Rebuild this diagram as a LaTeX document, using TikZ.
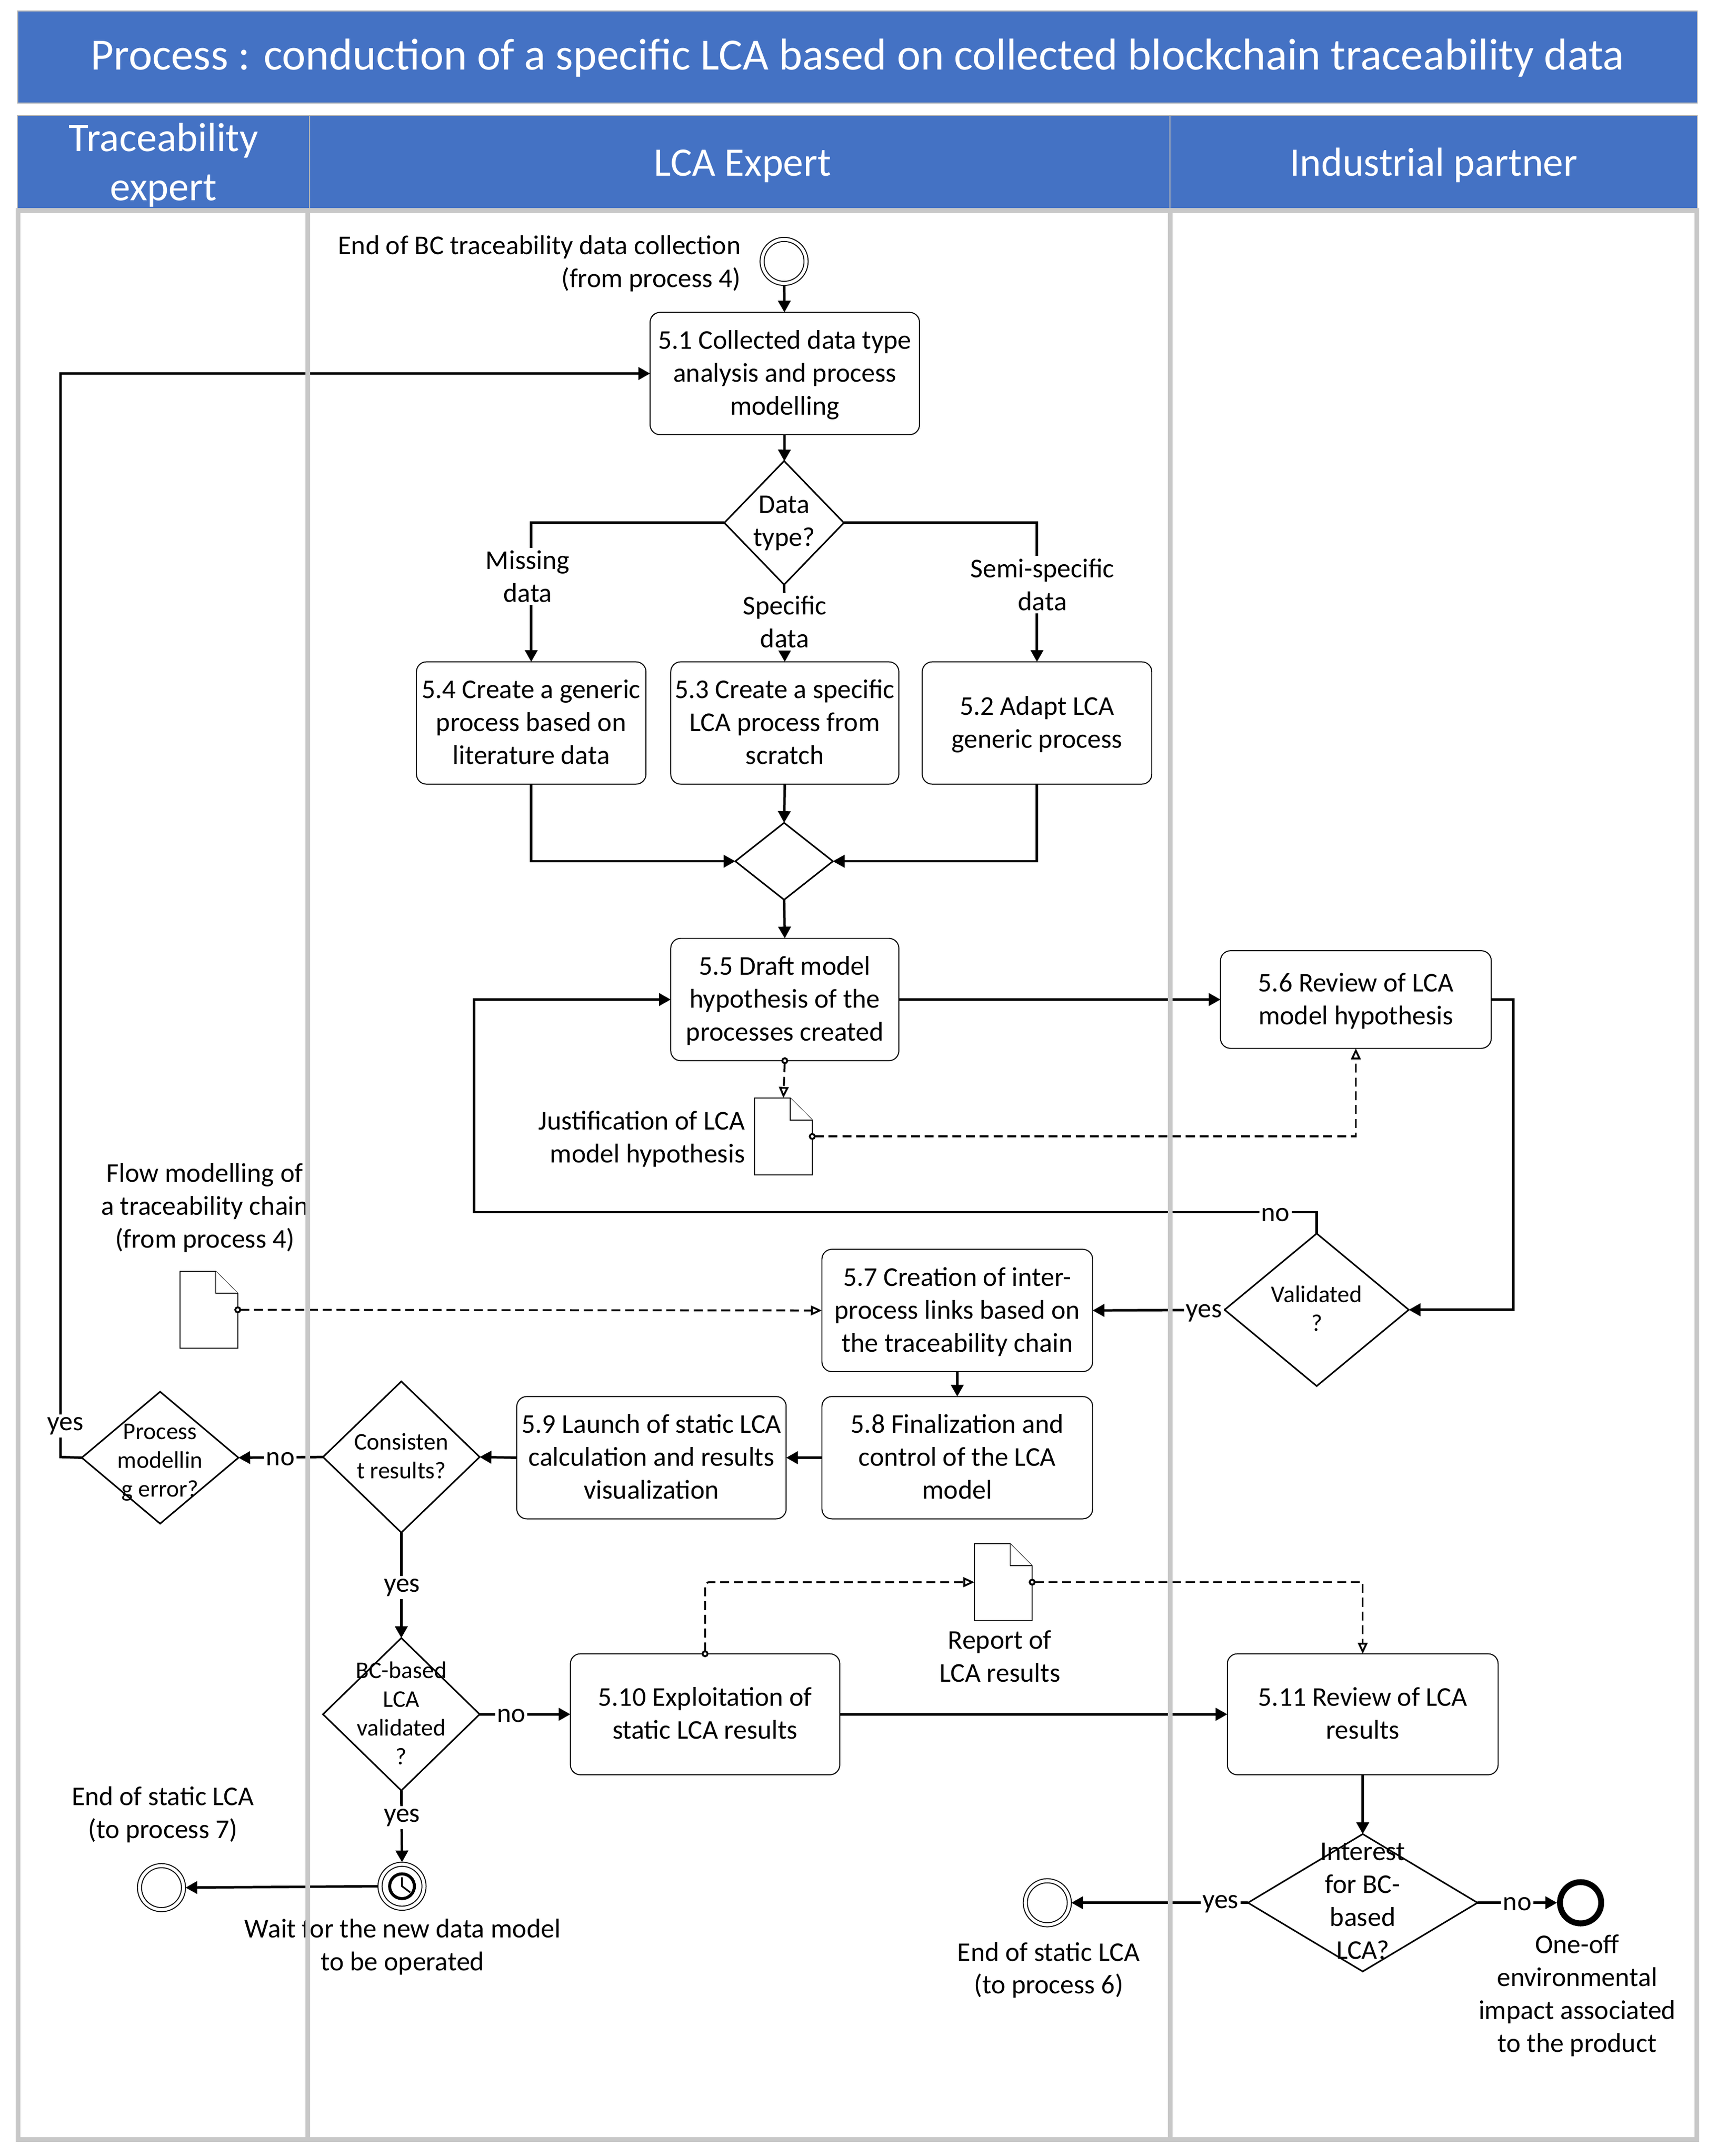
\documentclass[tikz,border=0pt]{standalone}
\usepackage{fontspec}
\setmainfont{Carlito}
\usetikzlibrary{shapes.geometric,arrows.meta,calc}
\def\U{0.026277cm}
\definecolor{barblue}{HTML}{4472C4}
\definecolor{lanegray}{HTML}{C8C8C8}
\definecolor{barline}{HTML}{B4B4B4}
\newcommand\docshape[1]{%
  \draw[docline] (#1.north west) -- ([xshift=-16*\U]#1.north east) -- ([yshift=-16*\U]#1.north east) -- (#1.south east) -- (#1.south west) -- cycle;
  \draw[docline] ([xshift=-16*\U]#1.north east) -- ([xshift=-16*\U,yshift=-16*\U]#1.north east) -- ([yshift=-16*\U]#1.north east);}
\newcommand\dtxt[1]{\smash{\makebox[0pt]{\begin{tabular}{@{}c@{}}#1\end{tabular}}}}
\newcommand\tk[2][1pt]{\raisebox{-#1}[\height][\depth]{\begin{tabular}{@{}c@{}}#2\end{tabular}}}
\tikzset{
  body/.style={font=\fontsize{14.75}{17.9}\selectfont},
  small/.style={font=\fontsize{13}{15.7}\selectfont},
  bar/.style={fill=barblue,draw=barline,line width=0.5pt,text=white,align=center,inner sep=0pt,outer sep=0pt,anchor=center},
  task/.style={draw=black,fill=white,rounded corners=0.19cm,line width=0.55pt,align=center,inner sep=0pt,outer sep=0pt,body},
  gate/.style={diamond,draw=black,fill=white,line width=0.85pt,inner sep=0pt,outer sep=0pt},
  txt/.style={align=center,inner sep=0pt,outer sep=0pt,body},
  gtxt/.style={txt,yshift=-5*\U},
  lab/.style={align=center,inner xsep=1pt,inner ysep=1.5pt,outer sep=0pt,fill=white,body},
  evt/.style={circle,draw=black,fill=white,line width=0.5pt,minimum size=35*\U,inner sep=0pt,outer sep=0pt},
  docnode/.style={rectangle,minimum width=42*\U,minimum height=56*\U,inner sep=0pt,outer sep=0pt},
  docline/.style={draw=black,fill=white,line width=0.5pt},
  flow/.style={draw=black,line width=1.35pt,-{Triangle[length=8.5*\U,width=9*\U]}},
  msg/.style={draw=black,line width=1pt,dash pattern=on 6.5*\U off 3.5*\U,
     {Circle[open,fill=white,length=5*\U,width=5*\U]}-{Triangle[open,fill=white,length=8*\U,width=7*\U]},shorten <=-2.5*\U},
  lane/.style={draw=lanegray,line width=3.5*\U},
}
\begin{document}
\begin{tikzpicture}[x=0.026277cm,y=-0.02631cm]
\useasboundingbox (0,0) rectangle (1249,1567.08);
% bars
\node[bar,minimum width=1222*\U,minimum height=67*\U,font=\fontsize{24.3}{29}\selectfont] (title) at (624,41.5) {\tk[1pt]{Process : conduction of a specific LCA based on collected blockchain traceability data}};
\node[bar,minimum width=212.5*\U,minimum height=68*\U,font=\fontsize{22.2}{26.8}\selectfont] (h1) at (119,118) {\raisebox{-7.2pt}[0pt][0pt]{\begin{tabular}{@{}c@{}}Traceability\\expert\end{tabular}}};
\node[bar,minimum width=626*\U,minimum height=68*\U,font=\fontsize{22}{26.8}\selectfont] (h2) at (538.3,118) {\hspace*{3pt}\tk[2pt]{LCA Expert}};
\node[bar,minimum width=383.5*\U,minimum height=68*\U,font=\fontsize{22}{26.8}\selectfont] (h3) at (1043.2,118) {\tk[2pt]{Industrial partner}};
% tasks
\node[task,minimum width=196*\U,minimum height=89*\U] (n51) at (571,271.5) {\tk{5.1 Collected data type\\analysis and process\\modelling}};
\node[task,minimum width=167*\U,minimum height=89*\U] (n54) at (386.5,525.5) {\tk{5.4 Create a generic\\process based on\\literature data}};
\node[task,minimum width=166*\U,minimum height=89*\U] (n53) at (571,525.5) {\tk{5.3 Create a specific\\LCA process from\\scratch}};
\node[task,minimum width=167*\U,minimum height=89*\U] (n52) at (754.5,525.5) {\tk{5.2 Adapt LCA\\generic process}};
\node[task,minimum width=166*\U,minimum height=89*\U] (n55) at (571,726.5) {\tk{5.5 Draft model\\hypothesis of the\\processes created}};
\node[task,minimum width=197*\U,minimum height=71*\U] (n56) at (986.5,726.5) {\tk{5.6 Review of LCA\\model hypothesis}};
\node[task,minimum width=197*\U,minimum height=89*\U] (n57) at (696.5,952.5) {\tk{5.7 Creation of inter-\\process links based on\\the traceability chain}};
\node[task,minimum width=197*\U,minimum height=89*\U] (n58) at (696.5,1059.5) {\tk{5.8 Finalization and\\control of the LCA\\model}};
\node[task,minimum width=196*\U,minimum height=89*\U] (n59) at (474,1059.5) {\tk{5.9 Launch of static LCA\\calculation and results\\visualization}};
\node[task,minimum width=196*\U,minimum height=88*\U] (n510) at (513,1246) {\tk{5.10 Exploitation of\\static LCA results}};
\node[task,minimum width=197*\U,minimum height=88*\U] (n511) at (991.5,1246) {\tk{5.11 Review of LCA\\results}};
% gateways
\node[gate,minimum width=87*\U,minimum height=90*\U] (gdata) at (570.5,380) {};
\node[gate,minimum width=71*\U,minimum height=56*\U] (gmerge) at (570.5,626) {};
\node[gate,minimum width=134*\U,minimum height=111*\U] (gval) at (958,952) {};
\node[gate,minimum width=114*\U,minimum height=110*\U] (gcons) at (292,1059) {};
\node[gate,minimum width=114*\U,minimum height=96*\U] (gerr) at (116.5,1059.5) {};
\node[gate,minimum width=114*\U,minimum height=111*\U] (gbc) at (292,1246) {};
\node[gate,minimum width=167*\U,minimum height=100*\U] (gint) at (991.5,1383) {};
% events
\node[evt] (start) at (570.5,190) {};
\node[circle,draw=black,line width=0.5pt,minimum size=29*\U,inner sep=0pt] (starti) at (start.center) {};
\node[evt] (timer) at (292.5,1371) {};
\node[circle,draw=black,line width=0.5pt,minimum size=29*\U,inner sep=0pt] (timeri) at (timer.center) {};
\node[evt] (end7) at (117.5,1372) {};
\node[circle,draw=black,line width=0.5pt,minimum size=29*\U,inner sep=0pt] (end7i) at (end7.center) {};
\node[evt] (end6) at (762,1383) {};
\node[circle,draw=black,line width=0.5pt,minimum size=29*\U,inner sep=0pt] (end6i) at (end6.center) {};
\node[circle,draw=black,fill=white,line width=4.3*\U,minimum size=30*\U,inner sep=0pt,outer sep=2.1*\U] (term) at (1150,1383) {};
\draw[line width=2.2*\U] (timer.center) circle[radius=9];
\draw[line width=1.2*\U] ([yshift=6.5*\U]timer.center) -- (timer.center) -- ([xshift=6*\U,yshift=-4.5*\U]timer.center);
% documents
\node[docnode] (doc) at (570,826) {};
\docshape{doc}
\node[docnode] (docf) at (152,952) {};
\docshape{docf}
\node[docnode] (docr) at (730,1150) {};
\docshape{docr}
% connectors
\draw[flow] (start) -- (n51);
\draw[flow] (n51) -- (gdata);
\draw[flow] (gdata.west) -| (n54.north);
\draw[flow] (gdata.south) -- (n53.north);
\draw[flow] (gdata.east) -| (n52.north);
\draw[flow] (n54.south) |- (gmerge.west);
\draw[flow] (n53.south) -- (gmerge.north);
\draw[flow] (n52.south) |- (gmerge.east);
\draw[flow] (gmerge.south) -- (n55.north);
\draw[flow] (n55.east) -- (n56.west);
\draw[msg] (n55.south) -- (doc.north);
\draw[msg] (doc.east) -| (n56.south);
\coordinate (c56) at (1101,726.5);
\draw[flow] (n56.east) -- (c56) |- (gval.east);
\coordinate (cno) at (345,881);
\draw[flow] (gval.north) |- (cno) |- (n55.west);
\draw[flow] (gval.west) -- (n57.east);
\draw[msg] (docf.east) -- (n57.west);
\draw[flow] (n57.south) -- (n58.north);
\draw[flow] (n58.west) -- (n59.east);
\draw[flow] (n59.west) -- (gcons.east);
\draw[flow] (gcons.west) -- (gerr.east);
\coordinate (cyes) at (44,1059);
\draw[flow] (gerr.west) -- (cyes) |- (n51.west);
\draw[flow] (gcons.south) -- (gbc.north);
\draw[flow] (gbc.east) -- (n510.west);
\draw[flow] (gbc.south) -- (timer.north);
\draw[flow] (timer.west) -- (end7.east);
\draw[flow] (n510.east) -- (n511.west);
\draw[msg,rounded corners=3*\U] (n510.north) |- (docr.west);
\draw[msg] (docr.east) -| (n511.north);
\draw[flow] (n511.south) -- (gint.north);
\draw[flow] (gint.west) -- (end6.east);
\draw[flow] (gint.east) -- (term.west);
% gateway texts
\node[gtxt] (tdata) at (gdata.center) {\dtxt{Data\\type?}};
\node[gtxt,small] (tval) at (gval.center) {\dtxt{Validated\\?}};
\node[gtxt,small] (tcons) at (gcons.center) {\dtxt{Consisten\\t results?}};
\node[gtxt,small] (terr) at (116.5,1062) {\dtxt{Process\\modellin\\g error?}};
\node[gtxt,small] (tbc) at (gbc.center) {\dtxt{BC-based\\LCA\\validated\\?}};
\node[gtxt] (tint) at (gint.center) {\dtxt{Interest\\for BC-\\based\\LCA?}};
% connector labels
\node[lab] (lmiss) at (384,419) {Missing\\data};
\node[lab] (lspec) at (571,452) {Specific\\data};
\node[lab] (lsemi) at (758.5,425) {Semi-specific\\data};
\node[lab] (lno1) at (928,883) {no};
\node[lab] (lyes1) at (876,954.5) {yes};
\node[lab] (lno2) at (204,1060.5) {no};
\node[lab] (lyes2) at (47.5,1036.5) {yes};
\node[lab] (lyes3) at (292.5,1154) {yes};
\node[lab] (lno3) at (372,1247) {no};
\node[lab] (lyes4) at (292.5,1321) {yes};
\node[lab] (lyes5) at (888,1384) {yes};
\node[lab] (lno4) at (1104,1384) {no};
% free texts
\node[txt,align=right,anchor=east] (tstart) at (539,191.5) {End of BC traceability data collection\\(from process 4)};
\node[txt,align=right,anchor=east] (tjust) at (542,828) {Justification of LCA\\model hypothesis};
\node[txt] (tflow) at (149,878) {Flow modelling of\\a traceability chain\\(from process 4)};
\node[txt] (trep) at (727.5,1204) {Report of\\LCA results};
\node[txt] (tend7) at (118.5,1319) {End of static LCA\\(to process 7)};
\node[txt] (twait) at (293,1415) {Wait for the new data model\\to be operated};
\node[txt] (tend6) at (763,1432) {End of static LCA\\(to process 6)};
\node[txt] (tone) at (1147.5,1450.5) {One-off\\environmental\\impact associated\\to the product};
% lanes
\draw[lane] (13,153) rectangle (1234.5,1555);
\draw[lane] (223.8,153) -- (223.8,1555);
\draw[lane] (851.5,153) -- (851.5,1555);
\end{tikzpicture}
\end{document}
